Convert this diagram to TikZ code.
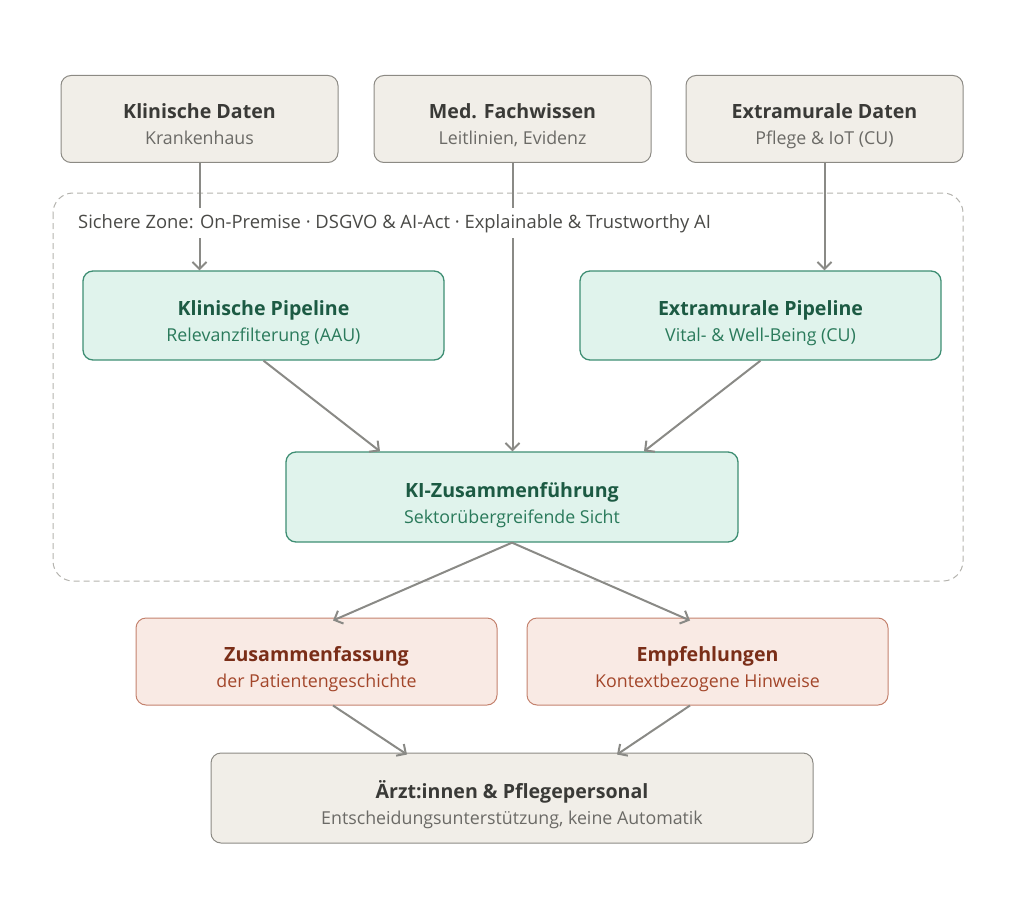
\documentclass[tikz,border=0pt]{standalone}
\usepackage{fontspec}
\setmainfont{Open Sans}
\usetikzlibrary{arrows.meta}
\definecolor{bgfill}{HTML}{F1EEE8}
\definecolor{bgdraw}{HTML}{8C8A84}
\definecolor{bgtitle}{HTML}{3A3A37}
\definecolor{bgsub}{HTML}{6B6A66}
\definecolor{grfill}{HTML}{E0F3EC}
\definecolor{grdraw}{HTML}{3E8E73}
\definecolor{grtitle}{HTML}{1C5A43}
\definecolor{grsub}{HTML}{2A7A5B}
\definecolor{rdfill}{HTML}{F9EAE4}
\definecolor{rddraw}{HTML}{C4826E}
\definecolor{rdtitle}{HTML}{7A2E18}
\definecolor{rdsub}{HTML}{A3462A}
\definecolor{arrowc}{HTML}{8A8A86}
\definecolor{zonec}{HTML}{B4B3AE}
\definecolor{zonetext}{HTML}{4A4A47}
\tikzset{
  box/.style={rounded corners=10pt, line width=1pt, inner sep=0pt, minimum height=87pt},
  beige/.style={box, draw=bgdraw, fill=bgfill},
  green/.style={box, draw=grdraw, fill=grfill, line width=1.3pt},
  red/.style={box, draw=rddraw, fill=rdfill},
  ttl/.style={anchor=base, inner sep=0pt, font=\fontsize{19.6}{22}\selectfont\bfseries},
  sub/.style={anchor=base, inner sep=0pt, font=\fontsize{17.8}{20}\selectfont},
  arr/.style={draw=arrowc, line width=2pt, -{Straight Barb[length=7pt,width=14pt,line width=2pt]}},
}
% #1 style, #2 name, #3 position, #4 width, #5 height, #6 title, #7 subtitle, #8 title colour, #9 sub colour
\newcommand{\boxnode}[9]{%
  \node[#1, minimum width=#4, minimum height=#5] (#2) at (#3) {};
  \node[ttl, text=#8] (#2t) at (#2.center) {#6};
  \node[sub, text=#9] (#2s) at ([yshift=-26pt]#2.center) {#7};
}
\begin{document}
\begin{tikzpicture}[x=1pt,y=-1pt]
\useasboundingbox (0,0) rectangle (1024,904);
% zone
\draw[zonec, line width=1pt, dash pattern=on 6pt off 4pt, rounded corners=20pt] (53,193) rectangle (963,581);
% top
\boxnode{beige}{kd}{199.5,119}{277pt}{87pt}{Klinische Daten}{Krankenhaus}{bgtitle}{bgsub}
\boxnode{beige}{mf}{512.5,119}{277pt}{87pt}{Med. Fachwissen}{Leitlinien, Evidenz}{bgtitle}{bgsub}
\boxnode{beige}{ed}{824.5,119}{277pt}{87pt}{Extramurale Daten}{Pflege \& IoT (CU)}{bgtitle}{bgsub}
% pipelines
\boxnode{green}{kp}{263.5,315.5}{361pt}{89pt}{Klinische Pipeline}{Relevanzfilterung (AAU)}{grtitle}{grsub}
\boxnode{green}{ep}{760.5,315.5}{361pt}{89pt}{Extramurale Pipeline}{Vital- \& Well-Being (CU)}{grtitle}{grsub}
\boxnode{green}{ki}{512,497}{452pt}{90pt}{KI-Zusammenführung}{Sektorübergreifende Sicht}{grtitle}{grsub}
% outputs
\boxnode{red}{zf}{316.5,661.5}{361pt}{87pt}{Zusammenfassung}{der Patientengeschichte}{rdtitle}{rdsub}
\boxnode{red}{em}{707.5,661.5}{361pt}{87pt}{Empfehlungen}{Kontextbezogene Hinweise}{rdtitle}{rdsub}
\boxnode{beige}{ap}{512,798}{602pt}{90pt}{Ärzt:innen \& Pflegepersonal}{Entscheidungsunterstützung, keine Automatik}{bgtitle}{bgsub}
% arrows
\draw[arr] (kd.south) -- (kp.north -| kd.south);
\draw[arr] (mf.south) -- (ki.north -| mf.south);
\draw[arr] (ed.south) -- (ep.north -| ed.south);
\draw[arr] (kp.south) -- ([xshift=-132pt]ki.north);
\draw[arr] (ep.south) -- ([xshift=132pt]ki.north);
\draw[arr] (ki.south) -- ([xshift=16.5pt,yshift=-3pt]zf.north);
\draw[arr] (ki.south) -- ([xshift=-17.5pt,yshift=-3pt]em.north);
\draw[arr] ([xshift=16.5pt]zf.south) -- ([xshift=-105pt,yshift=-2pt]ap.north);
\draw[arr] ([xshift=-17.5pt]em.south) -- ([xshift=105pt,yshift=-2pt]ap.north);
% zone label on top of the connectors
\node[anchor=base west, text=zonetext, font=\fontsize{18.4}{20}\selectfont, fill=white, inner xsep=0pt, inner ysep=6pt] (zl) at (78,228) {Sichere Zone: On-Premise · DSGVO \& AI-Act · Explainable \& Trustworthy AI};
\end{tikzpicture}
\end{document}
